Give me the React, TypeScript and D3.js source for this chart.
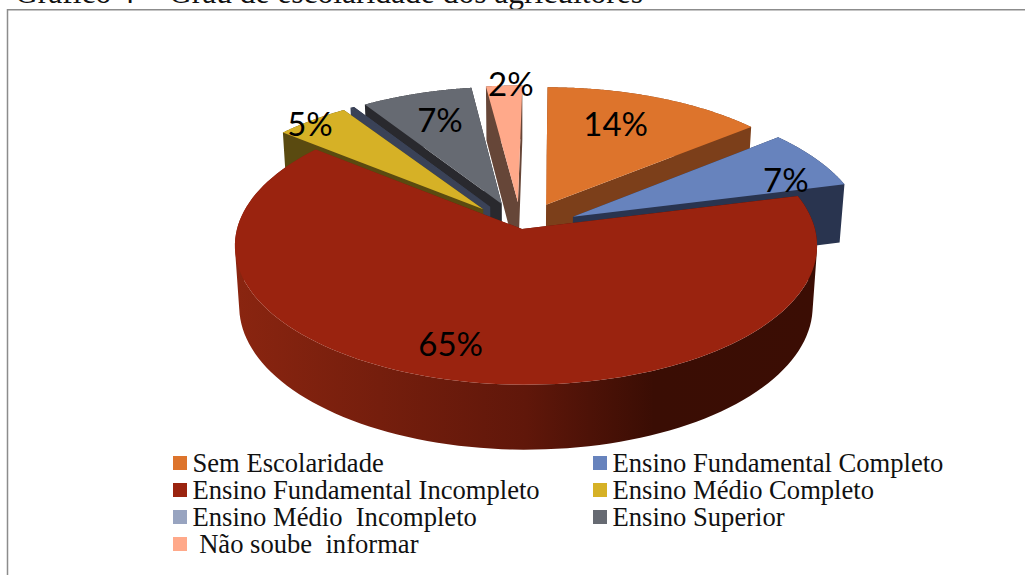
import * as d3 from "d3";

const categories = [
  "Sem Escolaridade",
  "Ensino Fundamental Completo",
  "Ensino Fundamental Incompleto",
  "Ensino Médio Completo",
  "Ensino Médio  Incompleto",
  "Ensino Superior",
  " Não soube  informar",
];
const values = [14, 7, 64.7, 4.7, 0.25, 7.05, 2.3];
const labels = ["14%", "7%", "65%", "5%", "", "7%", "2%"];
const topColors = ["#dd742c", "#6783bd", "#9a230f", "#d6b126", "#3a4257", "#666a72", "#ffa98a"];
const wallColors = ["#7c3f1a", "#29344f", "url(#redWall)", "#5a4a10", "#3a4257", "#29292e", "#664638"];
const legendColors = ["#dd742c", "#6783bd", "#9a230f", "#d6b126", "#98a4c0", "#666a72", "#ffa98a"];

const title = "Gráfico 4 -  Grau de escolaridade dos agricultores";

// how far each slice is pulled out of the pie (1 = radius)
const explode = [0.2, 0.2, 0, 0.2, 0.2, 0.2, 0.2];
// [radius, dx, dy] of each label
const labelPlace = [[0.62, -3, -8], [0.82, 11, 15], [0.8, -22, 0], [1.0, -2, 7], [0, 0, 0], [0.8, 7, 10], [0.95, 6, -3]];
// back to front
const drawOrder = [6, 0, 5, 4, 3, 1, 2];

const W = 1025;
const H = 575;

// perspective projection of the pie plane
const cx = 522;
const cy = 229;
const rimShift = 4;
const B = 289;
const A = 137;
const k = 0.12;
const bottomScale = 0.985;

function project(u: number, v: number, r: number, lower: boolean) {
  const den = 1 - k * v;
  let x = (B * u) / den + rimShift * r;
  let y = (A * v) / den;
  if (lower) {
    x *= bottomScale;
    y += 60 + 5 * v;
  }
  return [cx + x, cy + y] as [number, number];
}

export default function App() {
  const arcs = d3.pie<number>().value((d) => d).sort(null)(values);
  const line = d3.line();

  const slices = drawOrder.map((i) => {
    const a = arcs[i];
    const mid = (a.startAngle + a.endAngle) / 2;
    const ex = explode[i] * Math.sin(mid);
    const ey = -explode[i] * Math.cos(mid);
    const angles = d3.range(0, 121).map((n) => a.startAngle + ((a.endAngle - a.startAngle) * n) / 120);
    const rim = (lower: boolean) =>
      angles.map((t) => project(ex + Math.sin(t), ey - Math.cos(t), 1, lower));
    const apexTop = project(ex, ey, 0, false);
    const apexLow = project(ex, ey, 0, true);
    const rimTop = rim(false);
    const rimLow = rim(true);
    const top = line([apexTop, ...rimTop]) + "Z";
    const quads = [
      [apexTop, rimTop[0], rimLow[0], apexLow],
      [apexTop, rimTop[120], rimLow[120], apexLow],
    ];
    d3.range(0, 120).forEach((n) => {
      quads.push([rimTop[n], rimTop[n + 1], rimLow[n + 1], rimLow[n]]);
    });
    // one path, every quad wound the same way, so they merge without seams
    const wall = quads
      .map((q) => line(d3.polygonArea(q) < 0 ? q.slice().reverse() : q) + "Z")
      .join("");
    return { i, top, wall };
  });

  const labelNodes = arcs.map((a, i) => {
    const mid = (a.startAngle + a.endAngle) / 2;
    const [r, dx, dy] = labelPlace[i];
    const e = explode[i] + r;
    const [x, y] = project(e * Math.sin(mid), -e * Math.cos(mid), 1, false);
    return { x: x + dx, y: y + dy, text: labels[i] };
  });

  const legendRow = d3.scalePoint<number>().domain([0, 1, 2, 3]).range([463, 544]);
  const legendCol = d3.scalePoint<number>().domain([0, 1]).range([173, 593]);

  return (
    <svg
      width={W}
      height={H}
      viewBox={`0 0 ${W} ${H}`}
      style={{ position: "absolute", left: 0, top: 0, display: "block", background: "#fff" }}
    >
      <defs>
        <linearGradient id="redWall" gradientUnits="userSpaceOnUse" x1={234} x2={817} y1={0} y2={0}>
          <stop offset="0" stopColor="#8a2510" />
          <stop offset="0.5" stopColor="#60170a" />
          <stop offset="0.72" stopColor="#3a0d04" />
          <stop offset="1" stopColor="#3b0d04" />
        </linearGradient>
      </defs>

      <text x={15} y={3} fontFamily="'Liberation Serif'" fontSize={31.5} fill="#111" style={{ whiteSpace: "pre" }}>{title}</text>
      <path d={`M${W} 9.8H7.5V${H}`} fill="none" stroke="#8c8c8c" strokeWidth={1.5} />

      {slices.map((s) => (
        <g key={s.i}>
          <path d={s.wall} fill={wallColors[s.i]} />
          <path d={s.top} fill={topColors[s.i]} />
        </g>
      ))}

      {labelNodes.map((l, i) => (
        <text key={i} x={l.x} y={l.y} textAnchor="middle" dominantBaseline="middle" fontFamily="Lato" fontSize={33} fill="#000">
          {l.text}
        </text>
      ))}

      {categories.map((c, i) => {
        const col = i % 2;
        const row = Math.floor(i / 2);
        const x = legendCol(col)!;
        const y = legendRow(row)!;
        return (
          <g key={c}>
            <rect x={x} y={y - 7} width={14} height={14} fill={legendColors[i]} />
            <text x={x + 19.5} y={y + 8.6} fontFamily="'Liberation Serif'" fontSize={26.6} fill="#111" style={{ whiteSpace: "pre" }}>
              {c}
            </text>
          </g>
        );
      })}
    </svg>
  );
}
